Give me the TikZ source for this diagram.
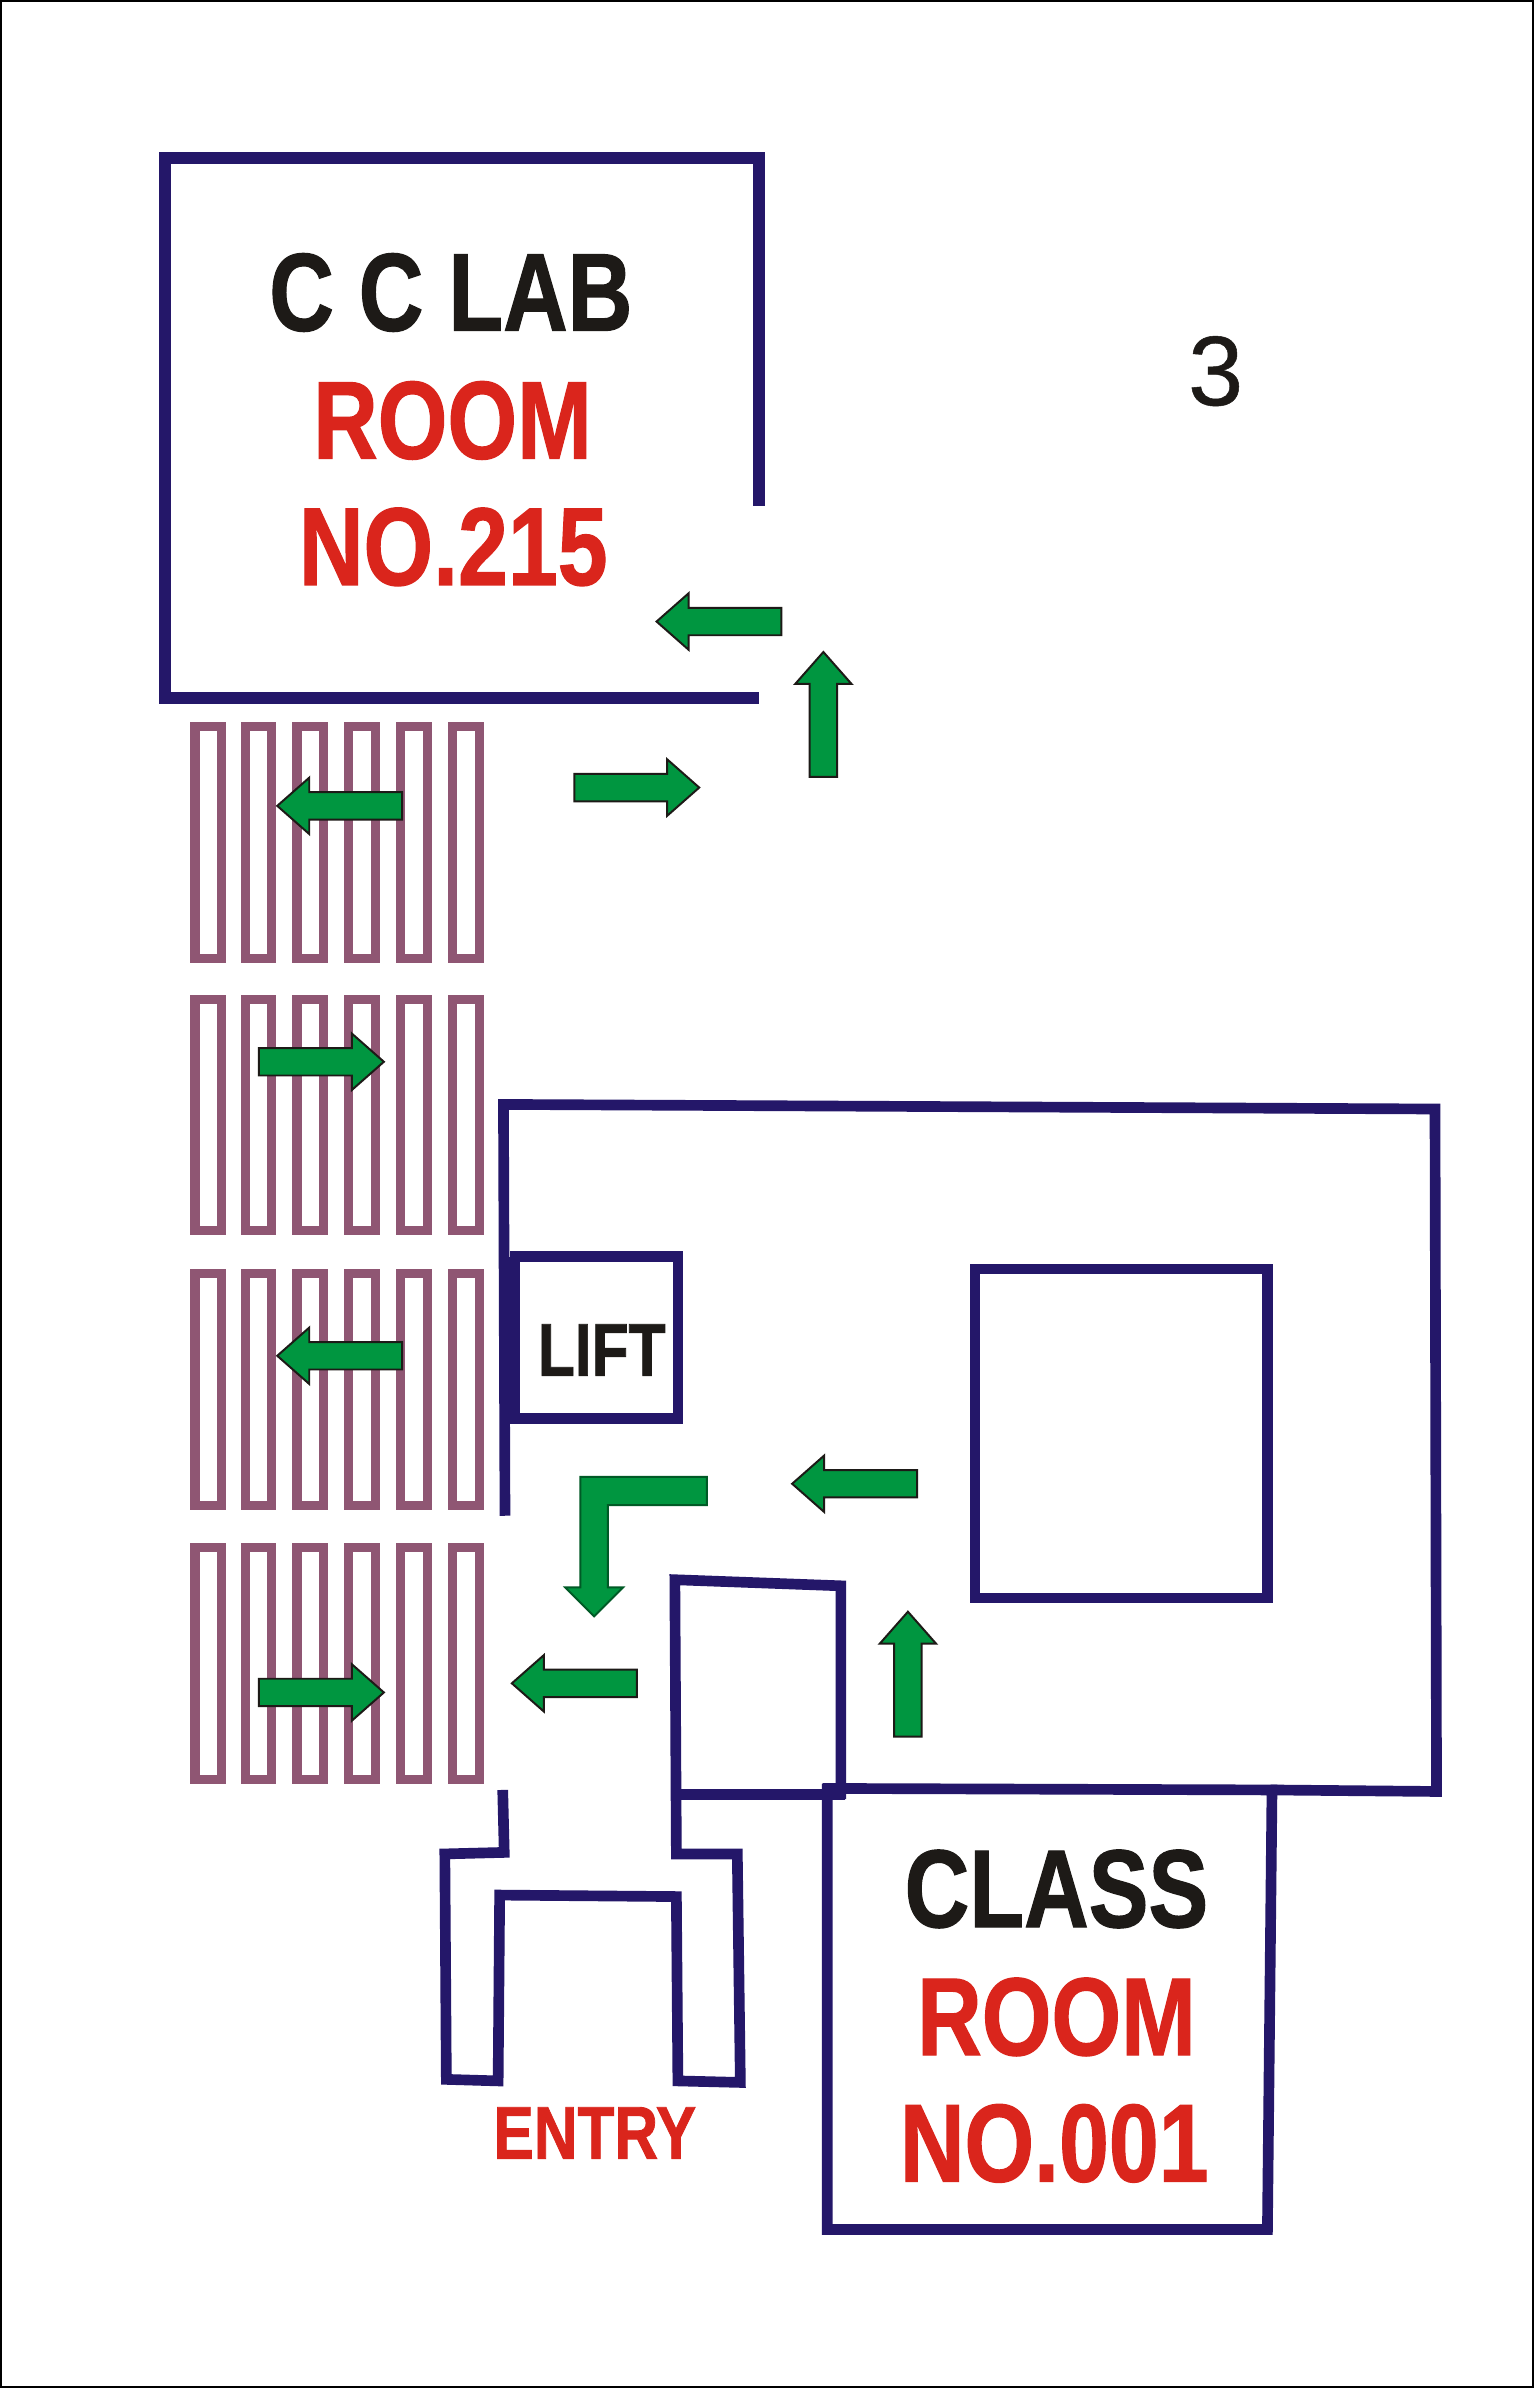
\documentclass[tikz,border=0pt]{standalone}
\usepackage{fontspec}
\setmainfont{Liberation Sans}
\newfontfamily\lblfont[UprightFont={* Bold},FakeBold=1.2]{Liberation Sans}
\newfontfamily\numfont[FakeBold=0.5]{Liberation Sans}
\definecolor{wall}{HTML}{241769}
\definecolor{redtxt}{HTML}{DA251C}
\definecolor{blacktxt}{HTML}{1D1A17}
\definecolor{stall}{HTML}{8F5673}
\definecolor{arrowgreen}{HTML}{009640}
\tikzset{
  wallline/.style={draw=wall,line width=7pt,miter limit=10,line join=miter},
  heavywall/.style={draw=wall,line width=7.8pt,line join=miter},
  stallbox/.style={draw=stall,line width=6pt,fill=none},
  greenarrow/.style={fill=arrowgreen,draw=blacktxt,line width=1.3pt,line join=miter},
  lbl/.style={anchor=base,inner sep=0pt,outer sep=0pt,font=\lblfont},
}
\newcommand{\biglbl}[5]{\node[lbl,text=#4] (#1) at (#2,#3) {\fontsize{72.6}{80}\selectfont\scalebox{.81}[1]{#5}};}
\newcommand{\smalllbl}[5]{\node[lbl,text=#4] (#1) at (#2,#3) {\fontsize{49}{54}\selectfont\scalebox{.81}[1]{#5}};}
\begin{document}
\begin{tikzpicture}[x=1pt,y=-1pt]
\useasboundingbox (0,0) rectangle (1007,1567.6);
\fill[white] (0,0) rectangle (1007,1567.6);
\draw[black,line width=1.2pt] (.6,.6) rectangle (1006.4,1567);

% stalls
\foreach \yy in {477,656,836,1016}{
  \foreach \xx in {128,161,195,229,263,297}{
    \draw[stallbox] (\xx,\yy) rectangle ++(17.5,152);
  }
}

% C C lab room
\draw[heavywall] (498,458) -- (108.5,458) -- (108.5,103.5) -- (498.5,103.5) -- (498.5,332);

% main outline
\draw[wallline] (331.5,995) -- (330.5,725) -- (942,728) -- (943,1176) -- (834,1175);
\draw[wallline] (338,825) rectangle (445,931);
\draw[wallline] (334,825) -- (334,931);
\draw[wallline] (640,833) rectangle (832,1049);
% class room
\draw[wallline] (543,1171) -- (543,1463.5) -- (832,1463.5) -- (835,1175) -- (540,1174);
% small room + entry
\draw[wallline] (445,1178) -- (555,1178);
\draw[wallline] (552,1181) -- (552,1041) -- (443,1037) -- (444,1217) -- (484,1217) -- (486,1367) -- (445,1366) -- (444,1245) -- (328,1244) -- (327,1366) -- (293,1365) -- (292,1217) -- (331,1216) -- (330,1175);

% straight arrows: tail x, tail y, direction
\foreach \ax/\ay/\ang in {513/408/180, 540.5/510/90, 377/517/0, 264/529/180, 170/697/0, 264/890/180, 170/1111/0, 418/1105/180, 602/974/180, 596/1140/90}{
  \begin{scope}[shift={(\ax,\ay)},rotate=\ang]
    \draw[greenarrow] (0,-9) -- (61,-9) -- (61,-18.5) -- (82,0) -- (61,18.5) -- (61,9) -- (0,9) -- cycle;
  \end{scope}
}
% bent arrow
\draw[greenarrow,draw=arrowgreen!60!black] (464,969.5) -- (381,969.5) -- (381,1042) -- (371,1042) -- (390,1061) -- (409,1042) -- (399,1042) -- (399,988) -- (464,988) -- cycle;

% labels
\biglbl{cclab}{296}{217}{blacktxt}{C C LAB}
\biglbl{room1}{297}{301}{redtxt}{ROOM}
\biglbl{no1}{297.5}{384}{redtxt}{NO.215}
\biglbl{class}{693.5}{1265}{blacktxt}{CLASS}
\biglbl{room2}{693.5}{1349}{redtxt}{ROOM}
\biglbl{no2}{692}{1432}{redtxt}{NO.001}
\smalllbl{lift}{395}{903}{blacktxt}{LIFT}
\smalllbl{entry}{390.5}{1417}{redtxt}{ENTRY}
\node[anchor=base,inner sep=0pt,text=blacktxt] (three) at (798,266) {\numfont\fontsize{65}{70}\selectfont 3};
\end{tikzpicture}
\end{document}
